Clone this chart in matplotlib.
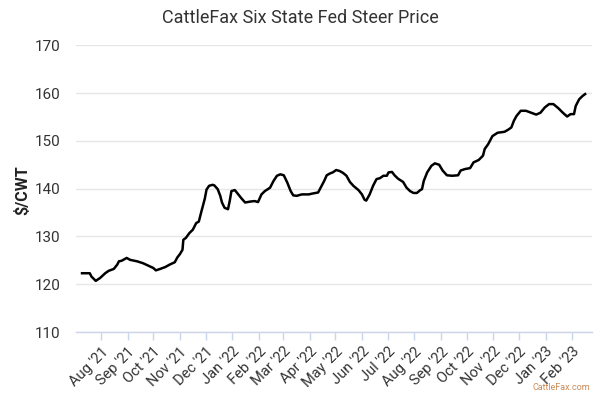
import matplotlib
matplotlib.use("Agg")
import matplotlib.pyplot as plt
import pandas as pd

plt.rcParams['font.family'] = ['Roboto', 'DejaVu Sans']

dates = [
    "2021-07-10", "2021-07-19", "2021-07-21", "2021-07-26", "2021-07-31",
    "2021-08-06", "2021-08-10", "2021-08-16", "2021-08-20", "2021-08-22",
    "2021-08-25", "2021-08-31", "2021-09-04", "2021-09-12", "2021-09-19",
    "2021-09-25", "2021-10-01", "2021-10-04", "2021-10-09", "2021-10-15",
    "2021-10-20", "2021-10-26", "2021-10-29", "2021-11-01", "2021-11-04",
    "2021-11-05", "2021-11-08", "2021-11-12", "2021-11-16", "2021-11-20",
    "2021-11-23", "2021-11-26", "2021-11-30", "2021-12-02", "2021-12-05",
    "2021-12-09", "2021-12-11", "2021-12-15", "2021-12-18", "2021-12-20",
    "2021-12-23", "2021-12-27", "2021-12-29", "2021-12-31", "2022-01-04",
    "2022-01-08", "2022-01-12", "2022-01-16", "2022-01-22", "2022-01-27",
    "2022-01-31", "2022-02-04", "2022-02-08", "2022-02-14", "2022-02-18",
    "2022-02-22", "2022-02-26", "2022-03-02", "2022-03-06", "2022-03-10",
    "2022-03-13", "2022-03-17", "2022-03-23", "2022-03-31", "2022-04-05",
    "2022-04-11", "2022-04-15", "2022-04-18", "2022-04-21", "2022-04-25",
    "2022-04-28", "2022-05-02", "2022-05-06", "2022-05-10", "2022-05-14",
    "2022-05-18", "2022-05-22", "2022-05-28", "2022-06-01", "2022-06-04",
    "2022-06-06", "2022-06-10", "2022-06-14", "2022-06-18", "2022-06-22",
    "2022-06-26", "2022-06-30", "2022-07-02", "2022-07-06", "2022-07-09",
    "2022-07-13", "2022-07-19", "2022-07-23", "2022-07-27", "2022-07-31",
    "2022-08-04", "2022-08-08", "2022-08-10", "2022-08-12", "2022-08-16",
    "2022-08-21", "2022-08-25", "2022-08-30", "2022-09-03", "2022-09-08",
    "2022-09-14", "2022-09-21", "2022-09-24", "2022-09-29", "2022-10-05",
    "2022-10-09", "2022-10-15", "2022-10-20", "2022-10-22", "2022-10-26",
    "2022-10-31", "2022-11-06", "2022-11-14", "2022-11-18", "2022-11-22",
    "2022-11-25", "2022-11-28", "2022-12-03", "2022-12-09", "2022-12-15",
    "2022-12-21", "2022-12-26", "2022-12-31", "2023-01-05", "2023-01-10",
    "2023-01-16", "2023-01-21", "2023-01-26", "2023-01-30", "2023-02-03",
    "2023-02-05", "2023-02-09", "2023-02-13", "2023-02-16",
]
prices = [
    122.3, 122.3, 121.6, 120.7, 121.3,
    122.3, 122.8, 123.2, 124.1, 124.8,
    124.9, 125.5, 125.1, 124.8, 124.4,
    123.9, 123.4, 122.9, 123.2, 123.6,
    124.1, 124.6, 125.6, 126.3, 127.2,
    129.3, 129.7, 130.7, 131.4, 132.8,
    133.1, 135.2, 137.9, 139.8, 140.6,
    140.8, 140.7, 139.9, 138.5, 137.1,
    136.0, 135.7, 137.4, 139.5, 139.7,
    138.8, 137.9, 137.1, 137.3, 137.4,
    137.2, 138.8, 139.5, 140.2, 141.6,
    142.7, 143.0, 142.8, 141.3, 139.5,
    138.6, 138.5, 138.8, 138.8, 139.0,
    139.2, 140.6, 141.6, 142.8, 143.2,
    143.4, 143.9, 143.7, 143.3, 142.7,
    141.4, 140.6, 139.7, 138.8, 137.7,
    137.5, 138.8, 140.6, 142.0, 142.2,
    142.7, 142.7, 143.4, 143.5, 142.8,
    142.1, 141.4, 140.2, 139.5, 139.1,
    139.1, 139.7, 139.9, 141.6, 143.4,
    144.8, 145.3, 145.0, 143.8, 142.8,
    142.7, 142.8, 143.8, 144.1, 144.3,
    145.5, 146.0, 146.9, 148.3, 149.3,
    151.0, 151.7, 151.9, 152.3, 152.8,
    154.2, 155.2, 156.3, 156.3, 155.9,
    155.5, 155.9, 157.0, 157.7, 157.7,
    156.8, 155.9, 155.1, 155.6, 155.6,
    157.3, 158.7, 159.4, 159.8,
]
tick_months = pd.date_range("2021-08-01", "2023-02-01", freq="MS")
tick_labels = [d.strftime("%b '%y") for d in tick_months]
y_ticks = [110, 120, 130, 140, 150, 160, 170]

title = "CattleFax Six State Fed Steer Price"
y_label = "$/CWT"
credit = "CattleFax.com"

x = pd.to_datetime(dates)

fig = plt.figure(figsize=(6, 4), dpi=100)
ax = fig.add_axes([0.1267, 0.17, 0.86, 0.7167])

ax.plot(x, prices, color="black", linewidth=1.8, solid_joinstyle="round")

ax.set_xlim(pd.Timestamp("2021-07-03"), pd.Timestamp("2023-02-24"))
ax.set_ylim(110, 170)
ax.set_yticks(y_ticks)
ax.set_yticklabels([str(v) for v in y_ticks])
ax.set_xticks(tick_months)
ax.set_xticklabels(tick_labels, rotation=45, ha="right", rotation_mode="anchor")

ax.grid(axis="y", color="#e6e6e6", linewidth=1)
ax.set_axisbelow(True)
for s in ["top", "right", "left"]:
    ax.spines[s].set_visible(False)
ax.spines["bottom"].set_color("#ccd6eb")
ax.spines["bottom"].set_linewidth(1)

ax.tick_params(axis="y", length=0, pad=11, labelsize=11, labelcolor="#333333")
ax.tick_params(axis="x", length=6, width=1, color="#ccd6eb", pad=3,
               labelsize=10.5, labelcolor="#333333")

ax.set_ylabel(y_label, fontsize=11.5, fontweight="bold", color="#222222",
              va="center")
ax.yaxis.set_label_coords(-0.105, 0.495)
fig.text(0.5, 0.955, title, ha="center", va="center", fontsize=13, color="#333333")
fig.text(0.983, 0.02, credit, ha="right", va="bottom", fontsize=6.5, color="#cc8a55")

fig.savefig("out.png", dpi=100)
